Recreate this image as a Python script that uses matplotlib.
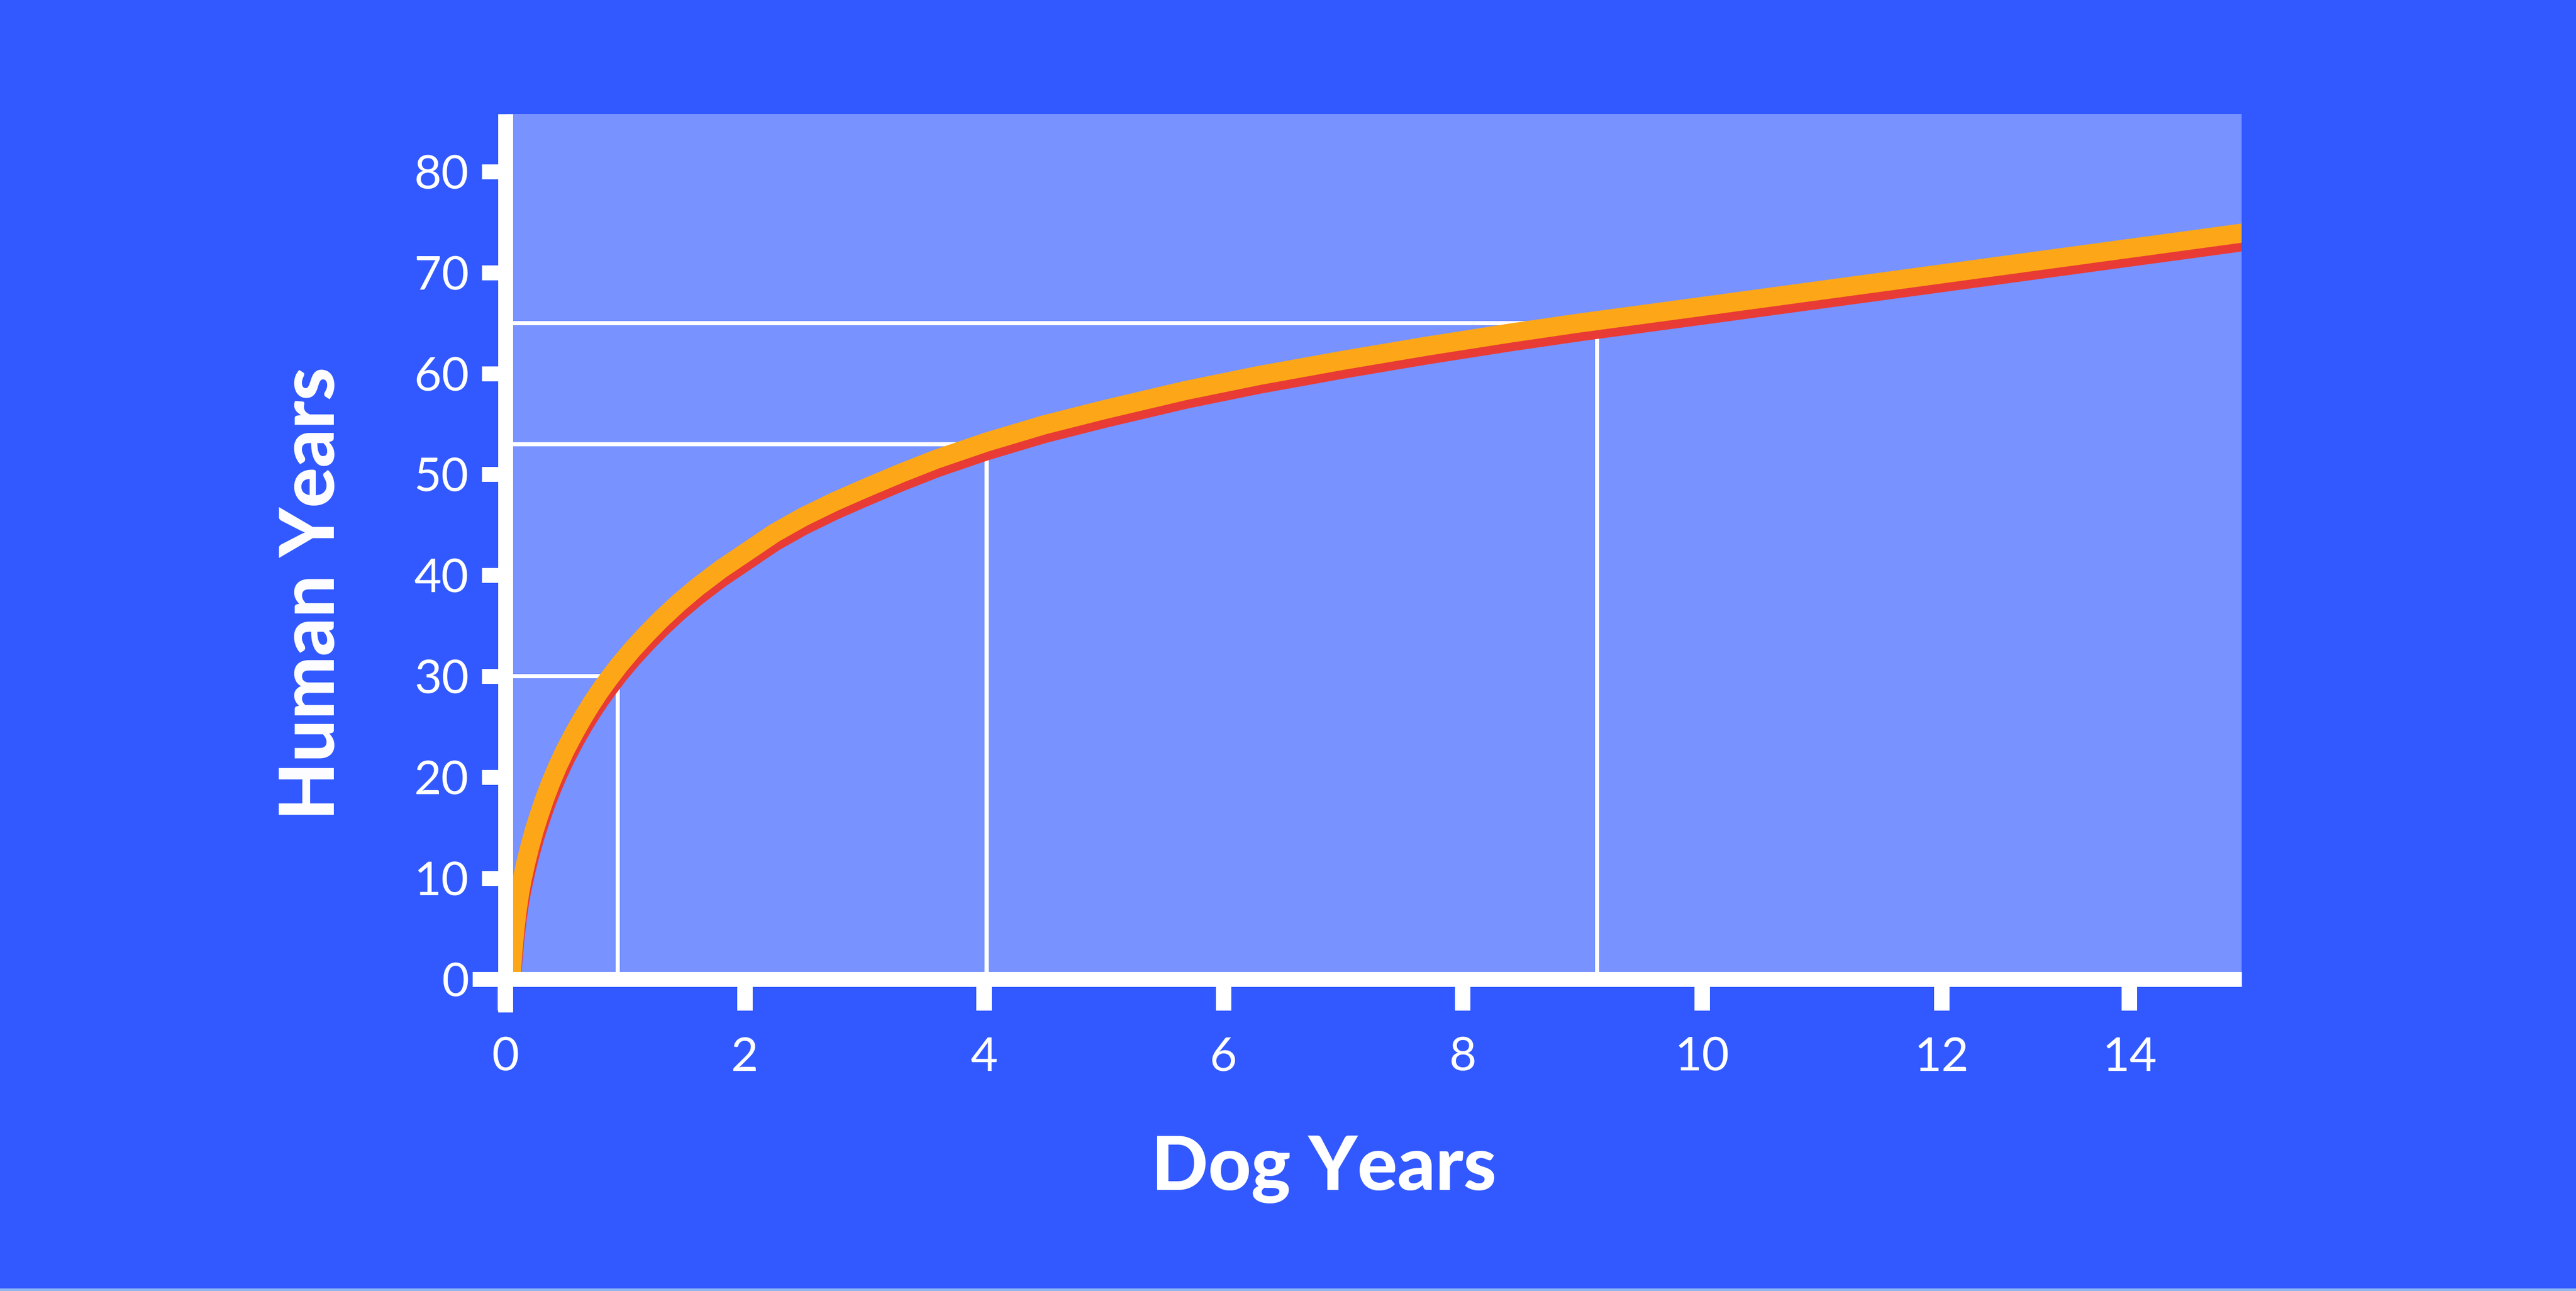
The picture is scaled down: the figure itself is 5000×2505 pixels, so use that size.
import matplotlib
matplotlib.use("Agg")
import matplotlib.pyplot as plt
from matplotlib import transforms
from matplotlib.patches import Rectangle

# values (centre of the orange stroke)
dog_years = [0.045, 0.06, 0.08, 0.10, 0.12, 0.14, 0.17, 0.20, 0.24, 0.28, 0.33, 0.38,
             0.435, 0.50, 0.58, 0.65, 0.72, 0.79, 0.86, 0.95, 1.06, 1.18, 1.30, 1.45,
             1.60, 1.80, 2.05, 2.25, 2.49, 2.75, 3.0, 3.3, 3.6, 4.02, 4.5, 5.0, 5.68,
             6.3, 7.0, 7.7, 8.4, 8.98, 10.0, 11.39, 12.8, 14.6]
human_years = [-0.5, 2.4, 5.0, 7.0, 8.6, 9.9, 11.5, 12.95, 14.7, 16.2, 17.95, 19.5,
               21.05, 22.7, 24.5, 25.95, 27.3, 28.55, 29.7, 31.1, 32.65, 34.2, 35.65, 37.3,
               38.8, 40.6, 42.6, 44.2, 45.8, 47.3, 48.6, 50.1, 51.5, 53.2, 54.9, 56.4, 58.3,
               59.8, 61.3, 62.7, 64.0, 65.0, 66.63, 68.87, 71.14, 74.04]

# guide lines (dog age, human age)
marker_dog = [0.94, 4.02, 9.12]
marker_human = [30, 53, 65]

x_ticks = [0, 2, 4, 6, 8, 10, 12, 13.57]
x_labels = ["0", "2", "4", "6", "8", "10", "12", "14"]
y_ticks = [0, 10, 20, 30, 40, 50, 60, 70, 80]
y_labels = ["0", "10", "20", "30", "40", "50", "60", "70", "80"]

BG = "#3259FF"
PLOT_BG = "#7892FF"
ORANGE = "#FDA718"
RED = "#E83B35"
PX = 72 / 100  # points per pixel at dpi 100

XMAX, YMAX = 14.507, 85.7

fig = plt.figure(figsize=(50, 25.05), dpi=100, facecolor=BG)
fig.patches.append(Rectangle((0, 0), 1, 5 / 2505, transform=fig.transFigure,
                             facecolor="#8FB7F0", edgecolor="none"))

ax = fig.add_axes([981 / 5000, 605 / 2505, 3370 / 5000, 1679 / 2505])
ax.set_facecolor(PLOT_BG)
ax.set_xlim(0, XMAX)
ax.set_ylim(0, YMAX)
for s in ax.spines.values():
    s.set_visible(False)

# white guide lines
for d, h in zip(marker_dog, marker_human):
    ax.plot([0, d], [h, h], color="white", lw=8 * PX, solid_capstyle="butt", zorder=2)
    ax.plot([d, d], [0, h], color="white", lw=8 * PX, solid_capstyle="butt", zorder=2)

# curve: red shadow shifted down, orange on top
shadow = transforms.offset_copy(ax.transData, fig=fig, x=0, y=-17, units="dots")
ax.plot(dog_years, human_years, color=RED, lw=37 * PX, transform=shadow,
        solid_capstyle="butt", solid_joinstyle="round", zorder=3)
ax.plot(dog_years, human_years, color=ORANGE, lw=37 * PX,
        solid_capstyle="butt", solid_joinstyle="round", zorder=4)

# axis lines
ax.plot([-0.2755, XMAX], [0, 0], color="white", lw=29 * PX, solid_capstyle="butt",
        clip_on=False, zorder=5)
ax.plot([0, 0], [-3.27, YMAX], color="white", lw=29 * PX, solid_capstyle="butt",
        clip_on=False, zorder=5)

ax.set_xticks(x_ticks)
ax.set_xticklabels(x_labels)
ax.set_yticks(y_ticks)
ax.set_yticklabels(y_labels)
ax.tick_params(axis="x", length=61 * PX, width=30 * PX, color="white", pad=36,
               labelcolor="white", labelsize=66)
ax.tick_params(axis="y", length=46 * PX, width=29 * PX, color="white", pad=18,
               labelcolor="white", labelsize=66)
for lbl in ax.get_xticklabels() + ax.get_yticklabels():
    lbl.set_family("Lato")
    lbl.set_fontweight("normal")

fig.text(2570 / 5000, (2505 - 2309) / 2505, "Dog Years", ha="center", va="baseline",
         fontsize=104, fontweight="black", family="Lato", color="white")
fig.text(649 / 5000, (2505 - 1152) / 2505, "Human Years", ha="center", va="baseline",
         rotation=90, rotation_mode="anchor", fontsize=105, fontweight="black",
         family="Lato", color="white")

fig.savefig("out.png", dpi=100, facecolor=BG)
